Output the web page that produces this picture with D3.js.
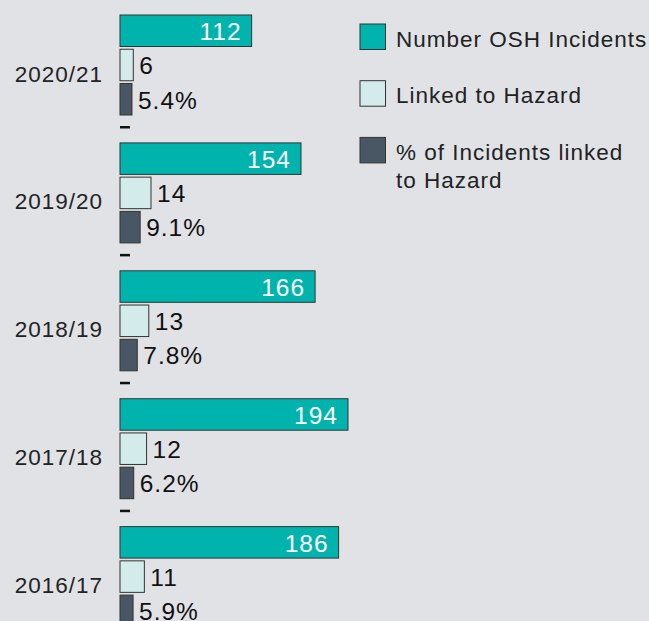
<!DOCTYPE html>
<html>
<head>
<meta charset="utf-8">
<script src="https://cdn.jsdelivr.net/npm/d3@7"></script>
<style>
  body { margin: 0; background: #e1e2e6; }
  svg { display: block; font-family: "Liberation Sans", Arial, sans-serif; }
</style>
</head>
<body>
<svg></svg>
<script>
const WIDTH = 649;
const HEIGHT = 621;

// data
const years = ['2020/21', '2019/20', '2018/19', '2017/18', '2016/17'];
const incidents = [112, 154, 166, 194, 186];
const linked = [6, 14, 13, 12, 11];
const pctLinked = [5.4, 9.1, 7.8, 6.2, 5.9];
const legendLabels = ['Number OSH Incidents', 'Linked to Hazard', '% of Incidents linked to Hazard'];

const COLORS = ['#00b4ad', '#d3ebea', '#495663'];
const STROKE = '#333';

const svg = d3.select('svg').attr('width', WIDTH).attr('height', HEIGHT);
svg.append('rect').attr('width', WIDTH).attr('height', HEIGHT).attr('fill', '#e1e2e6');

const y = d3.scaleBand().domain(years).range([15, 15 + 5 * 127.9]);
const sub = d3.scaleBand().domain(['count', 'linked', 'pct']).range([0, 100]).paddingInner(0.08);

const x = d3.scaleLinear().domain([0, 194]).range([120, 348]);
// the small series are drawn on their own, stretched scale
const xSmall = d3.scaleLinear().domain([0, 14]).range([120, 151]);

const rows = years.map((yr, i) => ({
  year: yr,
  incidents: incidents[i],
  linked: linked[i],
  pct: pctLinked[i]
}));

const g = svg.selectAll('g.year')
  .data(rows)
  .enter()
  .append('g')
  .attr('class', 'year')
  .attr('transform', d => `translate(0,${y(d.year)})`);

// year label
g.append('text')
  .attr('x', 103)
  .attr('y', 58.5)
  .attr('dy', '0.36em')
  .attr('text-anchor', 'end')
  .attr('font-size', 22.5)
  .attr('letter-spacing', 1)
  .attr('fill', '#222')
  .text(d => d.year);

// incidents bar
g.append('rect')
  .attr('x', x(0))
  .attr('y', sub('count'))
  .attr('width', d => x(d.incidents) - x(0))
  .attr('height', sub.bandwidth())
  .attr('fill', COLORS[0])
  .attr('stroke', STROKE);

g.append('text')
  .attr('x', d => x(d.incidents) - 10)
  .attr('y', sub('count') + sub.bandwidth() / 2)
  .attr('dy', '0.38em')
  .attr('text-anchor', 'end')
  .attr('font-size', 24.5)
  .attr('letter-spacing', 1)
  .attr('fill', '#fff')
  .text(d => d.incidents);

// linked bar
g.append('rect')
  .attr('x', xSmall(0))
  .attr('y', sub('linked'))
  .attr('width', d => xSmall(d.linked) - xSmall(0))
  .attr('height', sub.bandwidth())
  .attr('fill', COLORS[1])
  .attr('stroke', STROKE);

g.append('text')
  .attr('x', d => xSmall(d.linked) + 6)
  .attr('y', sub('linked') + sub.bandwidth() / 2)
  .attr('dy', '0.38em')
  .attr('font-size', 24.5)
  .attr('letter-spacing', 1)
  .attr('fill', '#111')
  .text(d => d.linked);

// percent bar
g.append('rect')
  .attr('x', xSmall(0))
  .attr('y', sub('pct'))
  .attr('width', d => xSmall(d.pct) - xSmall(0))
  .attr('height', sub.bandwidth())
  .attr('fill', COLORS[2])
  .attr('stroke', STROKE);

g.append('text')
  .attr('x', d => xSmall(d.pct) + 6)
  .attr('y', sub('pct') + sub.bandwidth() / 2)
  .attr('dy', '0.38em')
  .attr('font-size', 24.5)
  .attr('letter-spacing', 1)
  .attr('fill', '#111')
  .text(d => d.pct.toFixed(1) + '%');

// little separator dash under each group (not after the last one)
g.filter((d, i) => i < years.length - 1)
  .append('rect')
  .attr('x', 120)
  .attr('y', 111)
  .attr('width', 10)
  .attr('height', 2.5)
  .attr('fill', '#111');

// legend
const legend = svg.append('g').attr('transform', 'translate(360,24)');
const item = legend.selectAll('g')
  .data(legendLabels)
  .enter()
  .append('g')
  .attr('transform', (d, i) => `translate(0,${i * 56.7})`);

item.append('rect')
  .attr('width', 25.5)
  .attr('height', 25.5)
  .attr('fill', (d, i) => COLORS[i])
  .attr('stroke', STROKE);

const legendText = item.append('text')
  .attr('x', 36)
  .attr('y', 22.5)
  .attr('font-size', 22.5)
  .attr('letter-spacing', 1)
  .attr('fill', '#222');

legendText.each(function(d) {
  const t = d3.select(this);
  const lines = d === '% of Incidents linked to Hazard' ? ['% of Incidents linked', 'to Hazard'] : [d];
  lines.forEach((l, j) => {
    t.append('tspan').attr('x', 36).attr('dy', j === 0 ? 0 : 28).text(l);
  });
});
</script>
</body>
</html>
